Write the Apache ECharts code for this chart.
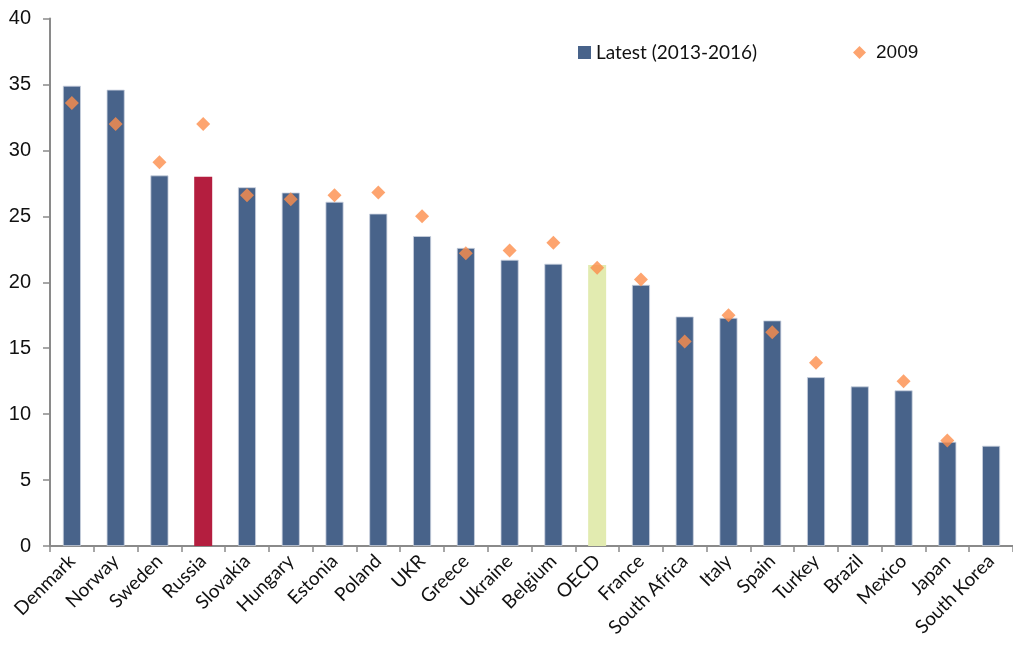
<!DOCTYPE html>
<html>
<head>
<meta charset="utf-8">
<script src="https://cdn.jsdelivr.net/npm/echarts@6/dist/echarts.min.js"></script>
<style>
  html, body { margin: 0; padding: 0; background: #ffffff; }
  #chart { width: 1013px; height: 657px; }
</style>
</head>
<body>
<div id="chart"></div>
<script>
// Countries, ordered by latest value
const categories = ['Denmark', 'Norway', 'Sweden', 'Russia', 'Slovakia', 'Hungary', 'Estonia',
  'Poland', 'UKR', 'Greece', 'Ukraine', 'Belgium', 'OECD', 'France', 'South Africa', 'Italy',
  'Spain', 'Turkey', 'Brazil', 'Mexico', 'Japan', 'South Korea'];

// Latest available value (2013-2016)
const latestValues = [34.9, 34.6, 28.1, 28.0, 27.2, 26.8, 26.1, 25.2, 23.5, 22.6, 21.7, 21.4,
  21.3, 19.8, 17.4, 17.3, 17.1, 12.8, 12.1, 11.8, 7.9, 7.6];

// 2009 value (null where not available)
const values2009 = [33.6, 32.0, 29.1, 32.0, 26.6, 26.3, 26.6, 26.8, 25.0, 22.2, 22.4, 23.0,
  21.1, 20.2, 15.5, 17.5, 16.2, 13.9, null, 12.5, 8.0, null];

const yTicks = { min: 0, max: 40, interval: 5 };

const BLUE = '#48638a';
const RED = '#b41e3f';
const GREEN = '#e2ebb0';
const ORANGE = '#fd8d4b';

const barColors = { 'Russia': RED, 'OECD': GREEN };

const chart = echarts.init(document.getElementById('chart'), null, { renderer: 'canvas' });

chart.setOption({
  animation: false,
  backgroundColor: '#ffffff',
  grid: { left: 50, top: 18.5, width: 972.2, height: 527.5, containLabel: false },
  legend: [
    {
      data: [{ name: 'Latest (2013-2016)', icon: 'rect', itemStyle: { borderWidth: 0 } }],
      left: 573, top: 38,
      itemWidth: 13, itemHeight: 13, itemGap: 0,
      textStyle: { fontFamily: 'Lato', fontSize: 19, color: '#111' }
    },
    {
      data: [{ name: '2009', icon: 'diamond' }],
      left: 848, top: 38,
      itemWidth: 13, itemHeight: 13,
      textStyle: { fontFamily: 'Liberation Sans', fontSize: 19, color: '#111', padding: [0, 0, 0, 5] }
    }
  ],
  xAxis: {
    type: 'category',
    data: categories,
    axisLine: { lineStyle: { color: '#8a8a8a', width: 2 } },
    axisTick: { show: true, length: 6, alignWithLabel: false, lineStyle: { color: '#8a8a8a', width: 1.5 } },
    axisLabel: {
      rotate: 45, interval: 0, margin: 12,
      fontFamily: 'Lato', fontSize: 19, color: '#111'
    }
  },
  yAxis: {
    type: 'value',
    min: yTicks.min, max: yTicks.max, interval: yTicks.interval,
    splitLine: { show: false },
    axisLine: { show: true, lineStyle: { color: '#8a8a8a', width: 2 } },
    axisTick: { show: true, length: 7, lineStyle: { color: '#8a8a8a', width: 1.5 } },
    axisLabel: { fontFamily: 'Liberation Sans', fontSize: 20, color: '#111', margin: 19 }
  },
  series: [
    {
      name: 'Latest (2013-2016)',
      type: 'bar',
      barWidth: 18,
      itemStyle: { color: BLUE, borderColor: '#c9d1de', borderWidth: 0.8 },
      data: latestValues.map((v, i) => ({
        value: v,
        itemStyle: barColors[categories[i]] ? { color: barColors[categories[i]], borderWidth: 0 } : undefined
      }))
    },
    {
      name: '2009',
      type: 'scatter',
      symbol: 'diamond',
      symbolSize: 14,
      itemStyle: { color: ORANGE },
      z: 5,
      data: values2009
    }
  ]
});
</script>
</body>
</html>
